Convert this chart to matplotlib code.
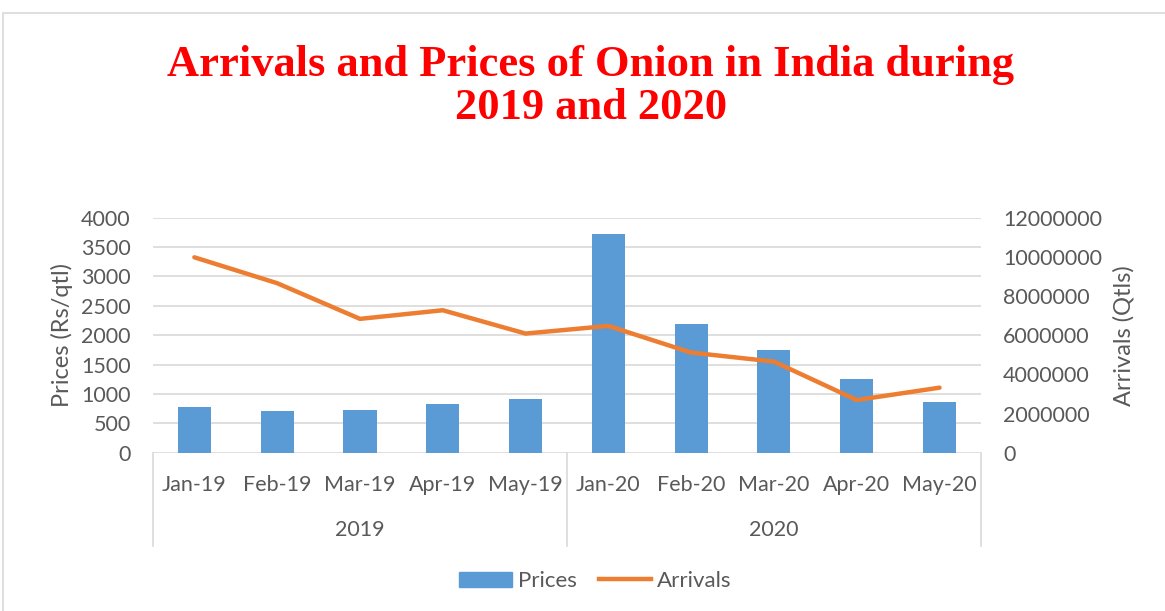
import matplotlib.pyplot as plt
from matplotlib.lines import Line2D
from matplotlib.patches import Rectangle
import numpy as np

months = ["Jan-19", "Feb-19", "Mar-19", "Apr-19", "May-19",
          "Jan-20", "Feb-20", "Mar-20", "Apr-20", "May-20"]
years = ["2019", "2020"]
prices = [770, 705, 732, 830, 908, 3725, 2190, 1742, 1254, 863]
arrivals = [9970000, 8650000, 6830000, 7270000, 6080000,
            6470000, 5110000, 4650000, 2690000, 3320000]

BAR_C = "#5B9BD5"
LINE_C = "#ED7D31"
TXT_C = "#595959"
GRID_C = "#D9D9D9"
FONT = "Lato"
FS = 15.5

fig = plt.figure(figsize=(11.65, 6.11), dpi=100)
ax = fig.add_axes([0.1313, 0.259, 0.7107, 0.385])
ax2 = ax.twinx()

x = np.arange(len(months))
ax.bar(x, prices, width=0.4, color=BAR_C, zorder=2)
ax2.plot(x, arrivals, color=LINE_C, lw=3.2, solid_capstyle="round", zorder=3)

ax.set_xlim(-0.5, 9.5)
ax.set_ylim(0, 4000)
ax2.set_ylim(0, 12000000)
ax.set_yticks(np.arange(0, 4001, 500))
ax2.set_yticks(np.arange(0, 12000001, 2000000))
ax2.set_yticklabels([str(v) for v in range(0, 12000001, 2000000)])
for a in (ax, ax2):
    for s in a.spines.values():
        s.set_visible(False)
    a.tick_params(axis="y", length=0, labelsize=FS, labelcolor=TXT_C, pad=16)
    for lab in a.get_yticklabels():
        lab.set_fontfamily(FONT)
ax.set_xticks([])
ax.yaxis.grid(True, color=GRID_C, lw=1.2, zorder=0)
ax.set_axisbelow(True)

ax.set_ylabel("Prices (Rs/qtl)", fontsize=17, color=TXT_C, family=FONT, labelpad=6)
ax2.set_ylabel("Arrivals (Qtls)", fontsize=17, color=TXT_C, family=FONT, labelpad=8)

# multi-level category axis
tr = ax.get_xaxis_transform()
for i, m in enumerate(months):
    ax.text(i, -0.137, m, transform=tr, ha="center", va="center",
            fontsize=FS, color=TXT_C, family=FONT, clip_on=False)
for j, yr in enumerate(years):
    ax.text(2 + 5 * j, -0.329, yr, transform=tr, ha="center", va="center",
            fontsize=FS, color=TXT_C, family=FONT, clip_on=False)
for xv in (-0.5, 4.5, 9.5):
    ax.add_line(Line2D([xv, xv], [0, -0.397], transform=tr, color=GRID_C,
                       lw=1.2, clip_on=False))

fig.text(0.507, 0.858, "Arrivals and Prices of Onion in India during\n2019 and 2020",
         ha="center", va="center", fontsize=32, fontweight="bold", color="#FF0000",
         family="Liberation Serif", linespacing=1.1)

handles = [Rectangle((0, 0), 1, 1, color=BAR_C),
           Line2D([], [], color=LINE_C, lw=3.2)]
fig.legend(handles, ["Prices", "Arrivals"], loc="center", bbox_to_anchor=(0.511, 0.049),
           ncol=2, frameon=False, prop={"family": FONT, "size": 16},
           labelcolor=TXT_C, handlelength=2.35, handletextpad=0.27, columnspacing=1.0)

fig.patches.append(Rectangle((0.003, -0.01), 1.0, 0.989, transform=fig.transFigure,
                             fill=False, edgecolor=GRID_C, lw=1.2))

fig.savefig("out.png", dpi=100)
